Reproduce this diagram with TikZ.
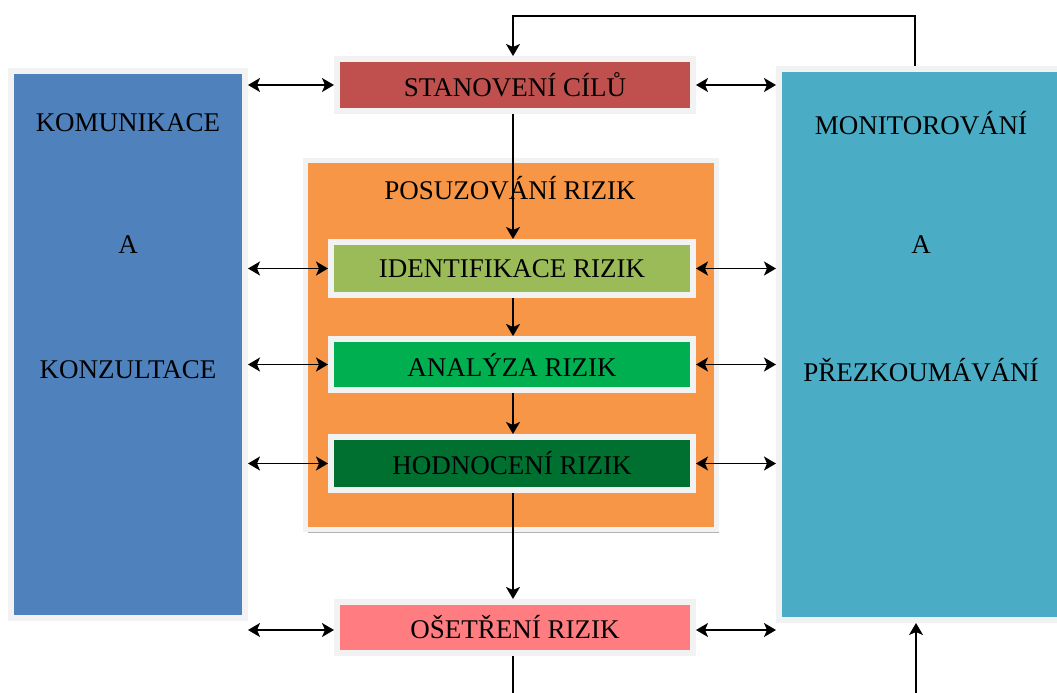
\documentclass[tikz,border=0pt]{standalone}
\usepackage{fontspec}
\setmainfont{Liberation Serif}
\usetikzlibrary{arrows.meta,shadows}
\definecolor{cKom}{HTML}{4F81BD}
\definecolor{cMon}{HTML}{4BACC6}
\definecolor{cStan}{HTML}{C0504D}
\definecolor{cPos}{HTML}{F79646}
\definecolor{cIdent}{HTML}{9BBB59}
\definecolor{cAnal}{HTML}{00B050}
\definecolor{cHod}{RGB}{0,112,48}
\definecolor{cOse}{HTML}{FF7C80}
\definecolor{cFrame}{HTML}{F2F2F2}
\tikzset{
  box/.style={draw=cFrame, line width=6pt, inner sep=0pt, rectangle,
    drop shadow={shadow xshift=2pt, shadow yshift=-3pt, fill=black, opacity=0.3}},
  lbl/.style={font=\fontsize{27}{32}\selectfont, text=black},
  arr/.style={line width=1.6pt, -{Stealth[length=12pt,width=14pt,inset=3pt]}},
  darr/.style={line width=1.6pt, {Stealth[length=12pt,width=14pt,inset=3pt]}-{Stealth[length=12pt,width=14pt,inset=3pt]}},
  ln/.style={line width=1.6pt}
}
\begin{document}
\begin{tikzpicture}[x=1pt,y=-1pt]
\useasboundingbox[fill=white] (0,0) rectangle (1057,693);
% big side boxes
\node[box, fill=cKom, minimum width=234pt, minimum height=547pt] (kom) at (128,344.5) {};
\node[box, fill=cMon, minimum width=290pt, minimum height=551pt] (mon) at (924,344.5) {};
% orange assessment box
\node[box, fill=cPos, line width=5pt, minimum width=411pt, minimum height=369pt] (pos) at (511,345) {};
% step boxes
\node[box, fill=cStan, minimum width=356pt, minimum height=52pt, lbl] (stan) at (515,85) {STANOVENÍ CÍLŮ};
\node[box, fill=cIdent, minimum width=362pt, minimum height=53pt, lbl] (ident) at (512,268.5) {IDENTIFIKACE RIZIK};
\node[box, fill=cAnal, minimum width=362pt, minimum height=51pt, lbl] (anal) at (512,364.5) {ANALÝZA RIZIK};
\node[box, fill=cHod, minimum width=362pt, minimum height=53pt, lbl] (hod) at (512,463.5) {HODNOCENÍ RIZIK};
\node[box, fill=cOse, minimum width=356pt, minimum height=51pt, lbl] (ose) at (515,627.5) {OŠETŘENÍ RIZIK};
% texts
\node[lbl] (posl) at (510,188) {POSUZOVÁNÍ RIZIK};
\node[lbl] (k1) at (128,123) {KOMUNIKACE};
\node[lbl] (k2) at (128,245) {A};
\node[lbl] (k3) at (128,370) {KONZULTACE};
\node[lbl] (m1) at (921,123) {MONITOROVÁNÍ};
\node[lbl] (m2) at (921,245) {A};
\node[lbl] (m3) at (921,370) {PŘEZKOUMÁVÁNÍ};
% helper coordinates
\coordinate (cx) at (513,0);
\coordinate (loopR) at (915,16);
\coordinate (bot1) at (513,693);
\coordinate (bot2) at (916,693);
\coordinate (yOse) at (0,630);
% vertical chain
\draw[arr] (mon.north -| loopR) |- (loopR -| cx) -- (stan.north -| cx);
\draw[arr] (stan.south -| cx) -- (ident.north -| cx);
\draw[arr] (ident.south -| cx) -- (anal.north -| cx);
\draw[arr] (anal.south -| cx) -- (hod.north -| cx);
\draw[arr] (hod.south -| cx) -- (ose.north -| cx);
\draw[ln] (ose.south -| cx) -- (bot1);
\draw[arr] (bot2) -- (mon.south -| bot2);
% left double arrows
\draw[darr] (kom.east |- stan) -- (stan.west);
\draw[darr] (kom.east |- ident) -- (ident.west);
\draw[darr] (kom.east |- anal) -- (anal.west);
\draw[darr] (kom.east |- hod) -- (hod.west);
\draw[darr] (kom.east |- yOse) -- (ose.west |- yOse);
% right double arrows
\draw[darr] (stan.east) -- (mon.west |- stan);
\draw[darr] (ident.east) -- (mon.west |- ident);
\draw[darr] (anal.east) -- (mon.west |- anal);
\draw[darr] (hod.east) -- (mon.west |- hod);
\draw[darr] (ose.east |- yOse) -- (mon.west |- yOse);
\end{tikzpicture}
\end{document}
